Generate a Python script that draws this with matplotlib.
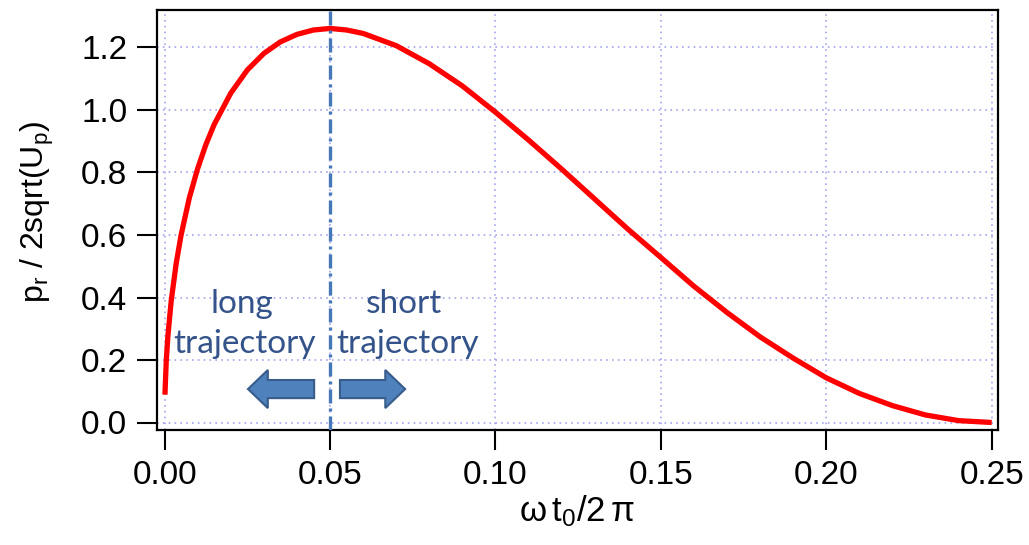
import matplotlib
matplotlib.use("Agg")
import matplotlib.pyplot as plt
from matplotlib.patches import FancyArrow

# return momentum vs. ionisation phase (three-step model)
phase = [0.0001, 0.0005, 0.001, 0.002, 0.0035, 0.005, 0.0075, 0.010, 0.0125,
         0.015, 0.020, 0.025, 0.030, 0.035, 0.040, 0.045, 0.050, 0.055, 0.060,
         0.070, 0.080, 0.090, 0.100, 0.110, 0.120, 0.130, 0.140, 0.150, 0.160,
         0.170, 0.180, 0.190, 0.200, 0.210, 0.220, 0.230, 0.240, 0.250]
momentum = [0.089, 0.198, 0.278, 0.390, 0.509, 0.601, 0.720, 0.813, 0.890,
            0.954, 1.054, 1.128, 1.181, 1.218, 1.242, 1.256, 1.261, 1.256, 1.245,
            1.206, 1.148, 1.077, 0.993, 0.904, 0.811, 0.715, 0.619, 0.528, 0.436,
            0.352, 0.274, 0.206, 0.143, 0.093, 0.054, 0.024, 0.006, 0.000]

x_ticks = [0.00, 0.05, 0.10, 0.15, 0.20, 0.25]
y_ticks = [0.0, 0.2, 0.4, 0.6, 0.8, 1.0, 1.2]
t_peak = 0.05

plt.rcParams["font.family"] = ["Liberation Sans", "DejaVu Sans"]
plt.rcParams["mathtext.fontset"] = "custom"
plt.rcParams["mathtext.rm"] = "Liberation Sans"

fig = plt.figure(figsize=(10.29, 5.45), dpi=100)
ax = fig.add_axes([157 / 1029, 115 / 545, 841 / 1029, 420 / 545])

ax.plot(phase, momentum, color="#ff0000", lw=3.8, zorder=3,
        solid_capstyle="butt", solid_joinstyle="round")
ax.axvline(t_peak, color="#4678b8", lw=2.4, dashes=(4.2, 1.5, 0.9, 1.5), zorder=4)

ax.set_xlim(-0.0023, 0.2519)
ax.set_ylim(-0.024, 1.32)
ax.set_xticks(x_ticks)
ax.set_yticks(y_ticks)
ax.set_xticklabels([f"{v:.2f}" for v in x_ticks])
ax.set_yticklabels([f"{v:.1f}" for v in y_ticks])
ax.tick_params(direction="out", length=14.5, width=1.5, labelsize=24, pad=7, colors="black")
for s in ax.spines.values():
    s.set_linewidth(1.6)
ax.grid(True, color="#a4a4ec", lw=1.2, linestyle=(0, (1, 2.5)), zorder=1)
ax.set_axisbelow(True)

ax.set_ylabel(r"$\mathregular{p_r}$ / 2sqrt($\mathregular{U_p}$)", fontsize=23)
ax.yaxis.set_label_coords(-0.12, 0.52)
ax.set_xlabel(r"$\mathregular{\omega\,t_0/2\,\pi}$", fontsize=25)
ax.xaxis.set_label_coords(0.5, -0.15)

# trajectory labels and direction arrows
txt_color = "#33538a"
txt_kw = dict(color=txt_color, fontsize=24, family=["Lato", "DejaVu Sans"],
              ha="center", va="baseline", zorder=5)
ax.text(0.0233, 0.350, "long", **txt_kw)
ax.text(0.0243, 0.222, "trajectory", **txt_kw)
ax.text(0.0722, 0.350, "short", **txt_kw)
ax.text(0.0734, 0.222, "trajectory", **txt_kw)

arrow_kw = dict(width=0.058, head_width=0.122, head_length=0.006,
                length_includes_head=True, facecolor="#4f81bd",
                edgecolor="#385d8a", lw=1.5, zorder=5)
ax.add_patch(FancyArrow(0.0452, 0.107, -0.0200, 0, **arrow_kw))
ax.add_patch(FancyArrow(0.0530, 0.107, 0.0197, 0, **arrow_kw))

fig.savefig("out.png", dpi=100)
